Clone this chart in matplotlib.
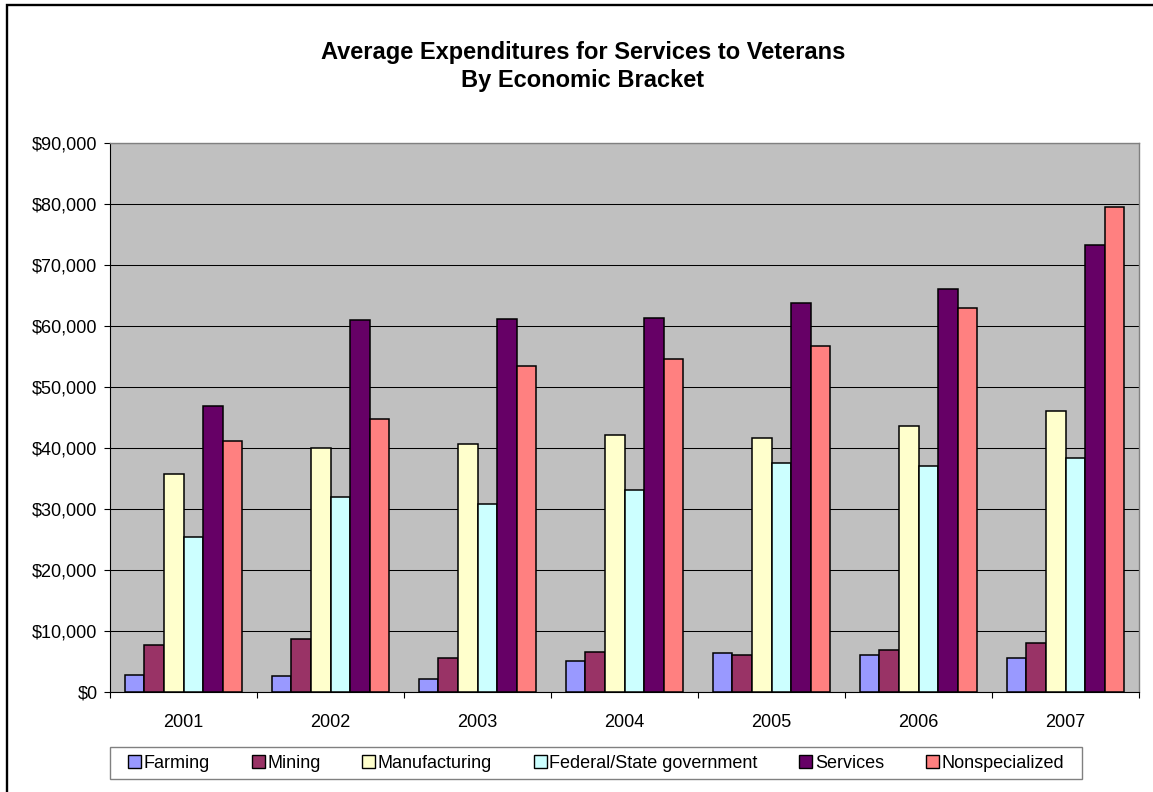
import matplotlib.pyplot as plt
import numpy as np
from matplotlib.patches import Patch, Rectangle
from matplotlib.ticker import StrMethodFormatter, FixedLocator

plt.rcParams['font.family'] = ['Liberation Sans', 'DejaVu Sans']

years = ['2001', '2002', '2003', '2004', '2005', '2006', '2007']
brackets = ['Farming', 'Mining', 'Manufacturing', 'Federal/State government',
            'Services', 'Nonspecialized']

farming = [2840, 2620, 2130, 5130, 6340, 6070, 5640]
mining = [7750, 8640, 5520, 6500, 6120, 6940, 8080]
manufacturing = [35740, 40050, 40600, 42080, 41640, 43660, 46020]
government = [25460, 31970, 30820, 33110, 37600, 37050, 38400]
services = [46940, 61000, 61100, 61360, 63830, 66120, 73250]
nonspecialized = [41200, 44700, 53390, 54590, 56720, 63000, 79440]

colors = ['#9999FF', '#993366', '#FFFFCC', '#CCFFFF', '#660066', '#FF8080']

series = [farming, mining, manufacturing, government, services, nonspecialized]

fig = plt.figure(figsize=(11.53, 7.92), dpi=100)
ax = fig.add_axes([110 / 1153, 1 - 692 / 792, 1029 / 1153, 549 / 792])
ax.set_facecolor('#C0C0C0')

x = np.arange(len(years))
w = 1 / 7.5
for i, (vals, c) in enumerate(zip(series, colors)):
    ax.bar(x + (i - 2.5) * w, vals, width=w, color=c, edgecolor='black',
           linewidth=1.1, zorder=3)

ax.set_xlim(-0.5, len(years) - 0.5)
ax.set_ylim(0, 90000)
ax.set_yticks(np.arange(0, 90001, 10000))
ax.yaxis.set_major_formatter(StrMethodFormatter('${x:,.0f}'))
ax.grid(axis='y', color='black', linewidth=0.75, zorder=1)
ax.set_axisbelow(True)

# labels sit in the middle of each year, tick marks on the boundaries
ax.set_xticks(x)
ax.set_xticklabels(years)
ax.xaxis.set_minor_locator(FixedLocator(np.arange(-0.5, len(years), 1.0)))
ax.tick_params(axis='x', which='major', length=0, pad=16, labelsize=13)
ax.tick_params(axis='x', which='minor', length=4.5, width=0.8, color='black')
ax.tick_params(axis='y', length=4, width=0.8, pad=5, labelsize=13)

for side in ['left', 'bottom']:
    ax.spines[side].set_color('black')
    ax.spines[side].set_linewidth(0.8)
for side in ['top', 'right']:
    ax.spines[side].set_color('#808080')
    ax.spines[side].set_linewidth(1.0)

fig.text(583 / 1153, 1 - 52 / 792, 'Average Expenditures for Services to Veterans',
         ha='center', va='center', fontsize=17, fontweight='bold')
fig.text(583 / 1153, 1 - 80 / 792, 'By Economic Bracket',
         ha='center', va='center', fontsize=17, fontweight='bold')

handles = [Patch(facecolor=c, edgecolor='black', linewidth=1.0) for c in colors]
fig.legend(handles, brackets, loc='center', ncol=6,
           bbox_to_anchor=(596 / 1153, 1 - 763 / 792),
           fontsize=13, frameon=False,
           handlelength=0.72, handleheight=0.72, handletextpad=0.15,
           columnspacing=2.3, borderpad=0.35, borderaxespad=0)

# legend box, drawn separately so it spans the full width
fig.patches.append(Rectangle((110 / 1153, 1 - 779 / 792), 972 / 1153, 32 / 792,
                             transform=fig.transFigure, fill=False,
                             edgecolor='#808080', linewidth=1.0))

# outer chart border
fig.patches.append(Rectangle((7 / 1153, -0.05), 1.1, 1.05 - 5 / 792,
                             transform=fig.transFigure, fill=False,
                             edgecolor='black', linewidth=1.7))

fig.savefig('out.png', dpi=100)
